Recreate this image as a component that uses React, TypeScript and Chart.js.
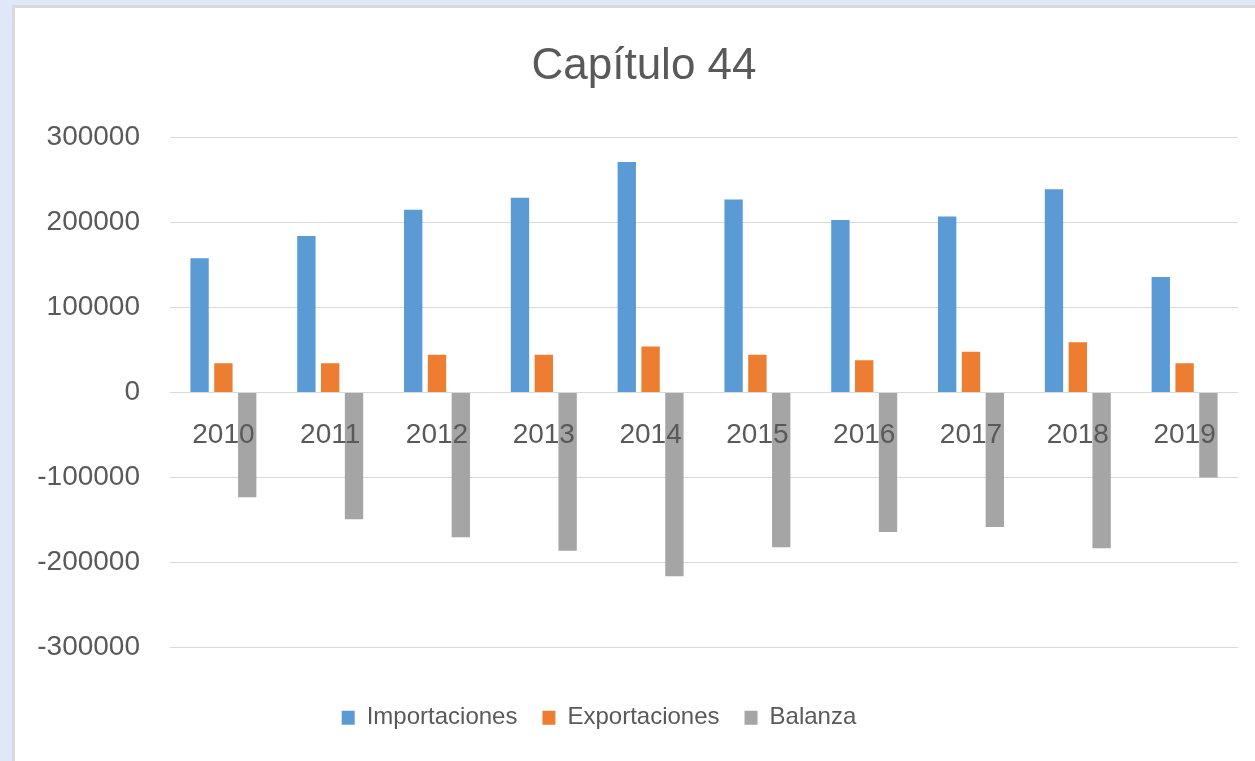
import React, { useEffect, useRef } from "react";
import { Chart, registerables } from "chart.js";

Chart.register(...registerables);

const years = ["2010", "2011", "2012", "2013", "2014", "2015", "2016", "2017", "2018", "2019"];
const importaciones = [158000, 184000, 215000, 229000, 271000, 227000, 203000, 207000, 239000, 136000];
const exportaciones = [34500, 34500, 44300, 44300, 54000, 44300, 38100, 47900, 59000, 34500];
const balanza = [-123000, -149000, -170000, -186000, -216000, -182000, -164000, -158000, -183000, -100000];
const seriesNames = ["Importaciones", "Exportaciones", "Balanza"];
const titleText = "Capítulo 44";

const FONT = "'Liberation Sans', Arial, sans-serif";
const TEXT = "#595959";
const LEGEND_DX = 301.7;
const TITLE_DX = 17.5;

const boxShift = {
  id: "boxShift",
  afterLayout(chart: any) {
    const l = chart.legend;
    if (l) {
      l.left += LEGEND_DX;
      l.right += LEGEND_DX;
    }
    const t = chart.titleBlock;
    if (t) {
      t.left += TITLE_DX;
      t.right += TITLE_DX;
    }
  },
};

export default function App() {
  const ref = useRef<HTMLCanvasElement | null>(null);

  useEffect(() => {
    if (!ref.current) return;
    const chart = new Chart(ref.current, {
      type: "bar",
      data: {
        labels: years,
        datasets: [
          { label: seriesNames[0], data: importaciones, backgroundColor: "#5b9bd5" },
          { label: seriesNames[1], data: exportaciones, backgroundColor: "#ed7d31" },
          { label: seriesNames[2], data: balanza, backgroundColor: "#a5a5a5" },
        ],
      },
      options: {
        animation: false,
        responsive: false,
        devicePixelRatio: 1,
        datasets: { bar: { categoryPercentage: 0.669, barPercentage: 0.77 } },
        layout: { padding: { left: 0, right: 37, top: 0, bottom: 21.3 } },
        plugins: {
          tooltip: { enabled: false },
          title: {
            display: true,
            text: titleText,
            color: TEXT,
            font: { family: FONT, size: 44, weight: "normal" },
            padding: { top: 32, bottom: 44.6 },
          },
          legend: {
            position: "bottom",
            align: "start",
            title: { display: true, text: "", font: { size: 10 }, padding: { top: 21, bottom: 0 } },
            labels: {
              color: TEXT,
              font: { family: FONT, size: 24 },
              boxWidth: 13,
              boxHeight: 14,
              padding: 25,
            },
          },
        },
        scales: {
          x: {
            position: { y: 0 } as any,
            grid: { display: false, drawTicks: false },
            border: { display: false },
            ticks: {
              z: 1,
              color: TEXT,
              font: { family: FONT, size: 28 },
              padding: 25.5,
              maxRotation: 0,
              autoSkip: false,
            },
          },
          y: {
            min: -300000,
            max: 300000,
            afterFit: (s: any) => {
              s.width = 155;
            },
            grid: { color: "#d9d9d9", lineWidth: 1, drawTicks: false },
            border: { display: false },
            ticks: {
              stepSize: 100000,
              color: TEXT,
              font: { family: FONT, size: 28 },
              padding: 30,
              callback: (v: any) => String(v),
            },
          },
        },
      },
      plugins: [boxShift],
    });
    return () => chart.destroy();
  }, []);

  return (
    <div style={{ position: "fixed", inset: 0, background: "#dee8f8", overflow: "hidden" }}>
      <div
        style={{
          position: "absolute",
          left: 12,
          top: 5,
          width: 1300,
          height: 800,
          border: "3px solid #d9d9d9",
          background: "#ffffff",
          overflow: "hidden",
        }}
      >
        <canvas ref={ref} width={1260} height={753} style={{ display: "block", width: 1260, height: 753 }} />
      </div>
    </div>
  );
}
